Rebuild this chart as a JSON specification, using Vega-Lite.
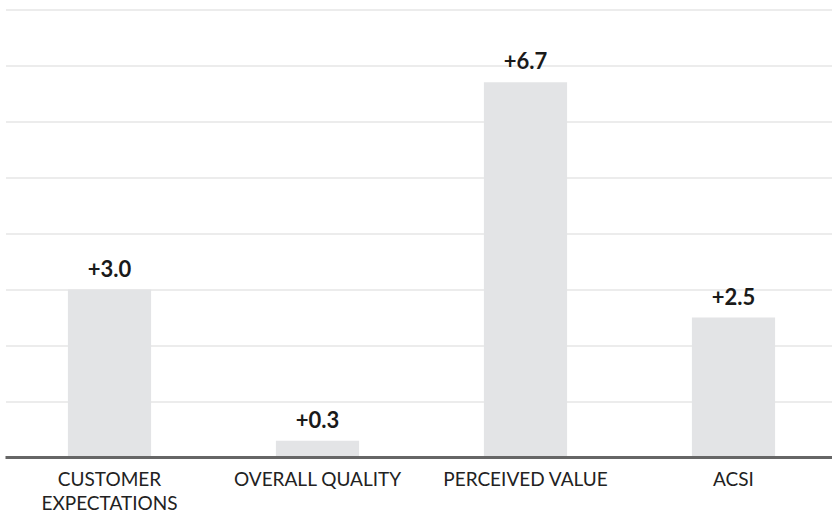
{
  "$schema": "https://vega.github.io/schema/vega-lite/v6.json",
  "width": 832,
  "height": 448,
  "autosize": "none",
  "padding": {"left": 5.5, "top": 9.5, "right": 0, "bottom": 56.5},
  "background": "white",
  "config": {"view": {"stroke": null}},
  "data": {"values": [
    {"category": "CUSTOMER EXPECTATIONS", "value": 3.0, "label": "+3.0"},
    {"category": "OVERALL QUALITY", "value": 0.3, "label": "+0.3"},
    {"category": "PERCEIVED VALUE", "value": 6.7, "label": "+6.7"},
    {"category": "ACSI", "value": 2.5, "label": "+2.5"}
  ]},
  "encoding": {
    "x": {"field": "category", "type": "nominal", "sort": null,
      "scale": {"paddingInner": 0.6, "paddingOuter": 0.3},
      "axis": {"title": null, "domain": false, "ticks": false, "labelAngle": 0,
        "labelFont": "Lato", "labelFontSize": 19, "labelColor": "#222222",
        "labelPadding": 13, "labelLineHeight": 24, "labelBaseline": "top",
        "labelExpr": "datum.label == 'CUSTOMER EXPECTATIONS' ? ['CUSTOMER', 'EXPECTATIONS'] : datum.label"}}
  },
  "layer": [
    {
      "mark": {"type": "bar", "color": "#e3e4e6"},
      "encoding": {
        "y": {"field": "value", "type": "quantitative",
          "scale": {"domain": [0, 8], "nice": false},
          "axis": {"title": null, "labels": false, "ticks": false, "domain": false,
            "values": [1, 2, 3, 4, 5, 6, 7, 8], "grid": true, "gridColor": "#e6e6e6", "gridWidth": 1.5}}
      }
    },
    {
      "mark": {"type": "text", "baseline": "bottom", "dy": -8, "font": "Lato", "fontSize": 22, "fontWeight": "bold", "color": "#1a1a1a"},
      "encoding": {
        "y": {"field": "value", "type": "quantitative"},
        "text": {"field": "label"}
      }
    },
    {
      "data": {"values": [{"y": 0}]},
      "mark": {"type": "rule", "color": "#666666", "strokeWidth": 3},
      "encoding": {"y": {"field": "y", "type": "quantitative"}, "x": {"value": 0}, "x2": {"value": 832}}
    }
  ]
}
